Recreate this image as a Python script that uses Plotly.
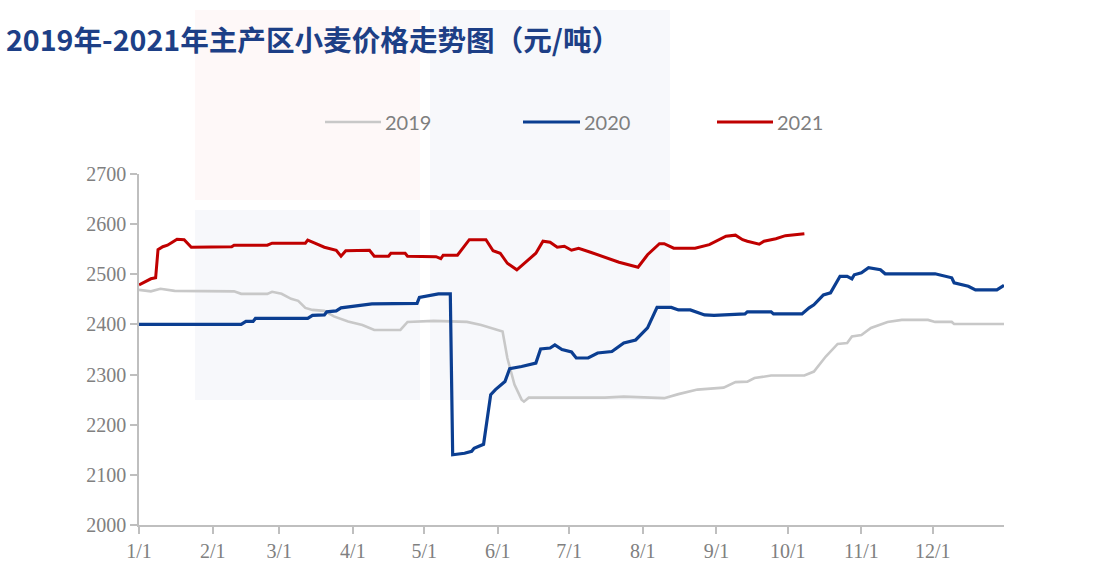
import pandas as pd
import plotly.graph_objects as go

# ---------------- data (day-of-year offsets, values in 元/吨) ----------------
days_2019 = [0, 5, 9, 15, 40, 43, 54, 56, 60, 64, 67, 70, 73, 78, 82, 88, 94, 99, 110, 113,
             124, 138, 144, 148, 153, 155, 158, 161, 162, 164, 176, 196, 204, 221, 227, 235, 246, 251, 256, 259,
             266, 280, 284, 289, 294, 298, 300, 304, 308, 315, 321, 332, 335, 342, 343, 364]
vals_2019 = [2469, 2466, 2471, 2467, 2466, 2461, 2461, 2465, 2461, 2451, 2447, 2433, 2429, 2427, 2416, 2406, 2399, 2389, 2389, 2405,
             2407, 2405, 2399, 2393, 2386, 2333, 2280, 2250, 2246, 2254, 2254, 2254, 2256, 2253, 2261, 2270, 2274, 2285, 2286, 2293,
             2298, 2298, 2306, 2336, 2361, 2363, 2376, 2379, 2393, 2405, 2409, 2409, 2405, 2405, 2401, 2401]

days_2020 = [0, 43, 45, 48, 49, 71, 73, 78, 79, 83, 85, 91, 98, 117, 118, 126, 131, 132, 137, 140,
             141, 145, 148, 150, 154, 156, 161, 167, 169, 173, 175, 178, 182, 184, 189, 193, 199, 204, 209, 214,
             217, 218, 224, 227, 232, 238, 242, 255, 256, 266, 267, 279, 282, 284, 288, 291, 295, 298, 300, 301,
             304, 307, 312, 314, 335, 339, 342, 343, 349, 352, 361, 364]
vals_2020 = [2400, 2400, 2406, 2406, 2412, 2412, 2418, 2419, 2425, 2427, 2433, 2436, 2441, 2442, 2454, 2461, 2461, 2140, 2143, 2147,
             2153, 2161, 2260, 2270, 2286, 2312, 2316, 2323, 2351, 2353, 2359, 2350, 2345, 2333, 2333, 2343, 2346, 2363, 2369, 2393,
             2426, 2434, 2434, 2429, 2429, 2419, 2418, 2421, 2425, 2425, 2421, 2421, 2433, 2439, 2459, 2463, 2496, 2496, 2491, 2499,
             2503, 2513, 2509, 2501, 2501, 2496, 2493, 2483, 2476, 2469, 2469, 2478]

days_2021 = [0, 5, 7, 8, 10, 12, 14, 16, 19, 22, 39, 40, 54, 56, 70, 71, 74, 78, 83, 85,
             87, 97, 99, 105, 106, 112, 113, 125, 127, 128, 134, 139, 146, 149, 152, 155, 159, 162, 167, 170,
             173, 176, 179, 182, 185, 190, 196, 202, 210, 214, 219, 221, 225, 234, 240, 247, 251, 254, 256, 261,
             263, 268, 272, 280]
vals_2021 = [2479, 2491, 2493, 2549, 2555, 2558, 2564, 2570, 2569, 2554, 2555, 2558, 2558, 2562, 2562, 2568, 2562, 2554, 2548, 2536,
             2547, 2548, 2536, 2536, 2542, 2542, 2536, 2535, 2531, 2538, 2538, 2569, 2569, 2547, 2542, 2522, 2509, 2522, 2542, 2566,
             2564, 2554, 2556, 2548, 2552, 2544, 2534, 2524, 2514, 2539, 2561, 2561, 2552, 2552, 2559, 2576, 2578, 2569, 2566, 2560,
             2566, 2571, 2577, 2581]

series_names = ["2019", "2020", "2021"]
series_colors = ["#c8c8c8", "#0b3e91", "#c00000"]
series_widths = [2.6, 3.2, 3.0]
month_ticks = ["1/1", "2/1", "3/1", "4/1", "5/1", "6/1", "7/1", "8/1", "9/1", "10/1", "11/1", "12/1"]
title_text = "2019年-2021年主产区小麦价格走势图（元/吨）"

BASE = pd.Timestamp("2019-01-01")


def to_dates(days):
    return [BASE + pd.Timedelta(days=d) for d in days]


fig = go.Figure()
for name, d, v, c, w in zip(series_names, [days_2019, days_2020, days_2021],
                            [vals_2019, vals_2020, vals_2021], series_colors, series_widths):
    fig.add_trace(go.Scatter(x=to_dates(d), y=v, mode="lines", name=name,
                             line=dict(color=c, width=w), showlegend=False))

tickvals = [BASE + pd.DateOffset(months=i) for i in range(12)]

# plot area geometry (pixels)
W, H = 1116, 566
L, R, T, B = 139, 1004, 174, 525


def px(xp):
    return (xp - L) / (R - L)


def py(yp):
    return (B - yp) / (B - T)


shapes = []
annotations = []

# faint watermark blocks
wm = [(195, 10, 420, 200, "rgba(235,90,90,0.045)"),
      (430, 10, 670, 200, "rgba(90,120,180,0.05)"),
      (195, 210, 420, 400, "rgba(90,120,180,0.05)"),
      (430, 210, 670, 400, "rgba(90,120,180,0.05)")]
for x0, y0, x1, y1, col in wm:
    shapes.append(dict(type="rect", xref="paper", yref="paper", x0=px(x0), x1=px(x1), y0=py(y1), y1=py(y0),
                       fillcolor=col, line=dict(width=0), layer="below"))

# manual legend
leg_y = py(122)
for (x0, x1), name, c, w in zip([(325, 381), (523, 580), (717, 773)], series_names, series_colors, series_widths):
    shapes.append(dict(type="line", xref="paper", yref="paper", x0=px(x0), x1=px(x1), y0=leg_y, y1=leg_y,
                       line=dict(color=c, width=w)))
    annotations.append(dict(text=name, xref="paper", yref="paper", x=px(x1 + 2), y=leg_y,
                            xanchor="left", yanchor="middle", showarrow=False,
                            font=dict(family="Lato", size=20, color="#7f7f7f")))

# title
annotations.append(dict(text="<b>" + title_text + "</b>", xref="paper", yref="paper", x=px(4), y=py(38),
                        xanchor="left", yanchor="middle", showarrow=False,
                        font=dict(family="Noto Sans CJK SC", size=28.6, color="#1d3f86")))

axis_common = dict(showgrid=False, zeroline=False, showline=True, linecolor="#bfbfbf", linewidth=1.5,
                   ticks="outside", ticklen=7, tickcolor="#bfbfbf", tickwidth=1.5, automargin=False,
                   tickfont=dict(family="Liberation Serif", size=20, color="#808080"))

fig.update_layout(
    width=W, height=H,
    margin=dict(l=L, r=W - R, t=T, b=H - B, pad=0, autoexpand=False),
    paper_bgcolor="white", plot_bgcolor="rgba(0,0,0,0)",
    shapes=shapes, annotations=annotations,
    showlegend=False,
    xaxis=dict(type="date", range=[BASE, BASE + pd.Timedelta(days=364)],
               tickvals=tickvals, ticktext=month_ticks, **axis_common),
    yaxis=dict(range=[2000, 2700], dtick=100, tick0=2000, **axis_common),
)

fig.write_html("out.html", config={"displayModeBar": False},
               post_script="document.body.style.margin='0px';document.body.style.overflow='hidden';")
